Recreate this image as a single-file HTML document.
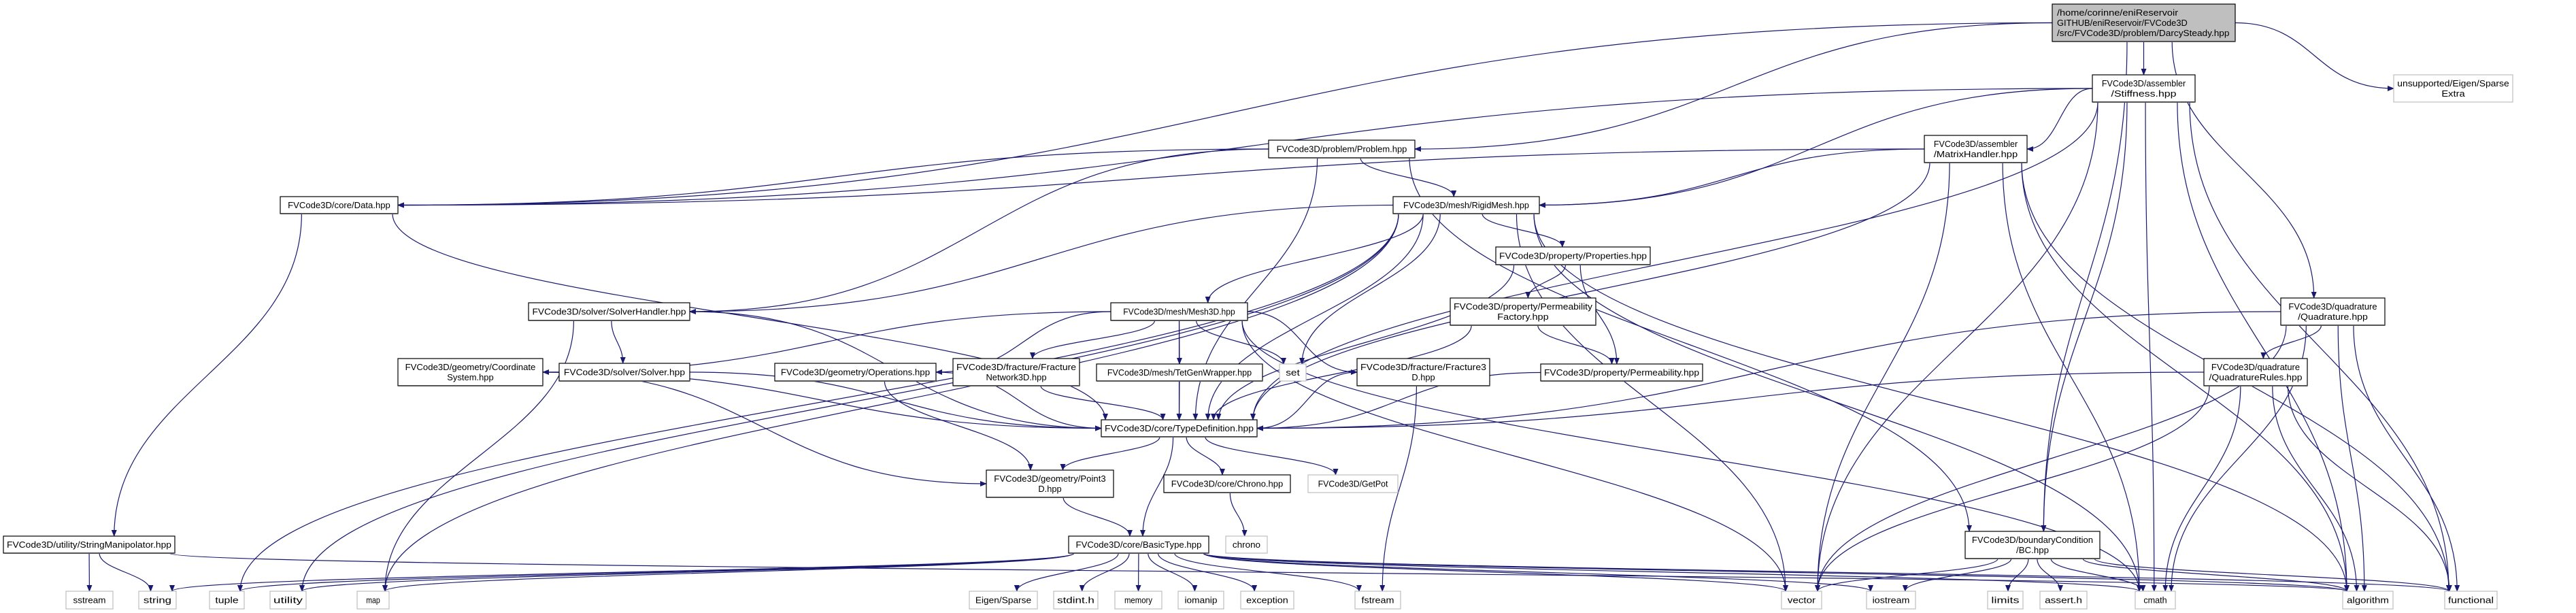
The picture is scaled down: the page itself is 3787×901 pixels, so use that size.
<!DOCTYPE html>
<html><head><meta charset="utf-8"><style>
html,body{margin:0;padding:0;background:#fff;}
svg{display:block;}
text{font-family:"Liberation Sans",sans-serif;font-size:12.5px;fill:#000;}
</style></head><body>
<svg id="g" width="3787" height="901" xmlns="http://www.w3.org/2000/svg">
<defs><marker id="ar" markerWidth="10" markerHeight="8" refX="9" refY="4" orient="auto" markerUnits="userSpaceOnUse"><path d="M0,0 L10,4 L0,8 z" fill="#191970"/></marker></defs>
<g id="edges"></g><g id="nodes"></g>
</svg>
<script>
var N={
D:[3017,6,3286,61,["/home/corinne/eniReservoir","GITHUB/eniReservoir/FVCode3D","/src/FVCode3D/problem/DarcySteady.hpp"],2],
ST:[3076,110,3227,150,["FVCode3D/assembler","/Stiffness.hpp"],0],
SE:[3519,110,3694,150,["unsupported/Eigen/Sparse","Extra"],1],
MH:[2829,199,2980,239,["FVCode3D/assembler","/MatrixHandler.hpp"],0],
PR:[1865,206,2080,232,["FVCode3D/problem/Problem.hpp"],0],
DA:[412,289,585,314,["FVCode3D/core/Data.hpp"],0],
RM:[2048,289,2263,314,["FVCode3D/mesh/RigidMesh.hpp"],0],
PP:[2199,363,2426,389,["FVCode3D/property/Properties.hpp"],0],
PF:[2132,438,2346,478,["FVCode3D/property/Permeability","Factory.hpp"],0],
SH:[777,445,1014,471,["FVCode3D/solver/SolverHandler.hpp"],0],
M3:[1633,445,1834,471,["FVCode3D/mesh/Mesh3D.hpp"],0],
QD:[3353,438,3506,478,["FVCode3D/quadrature","/Quadrature.hpp"],0],
CS:[585,527,798,567,["FVCode3D/geometry/Coordinate","System.hpp"],0],
SO:[822,534,1014,560,["FVCode3D/solver/Solver.hpp"],0],
OP:[1139,534,1376,560,["FVCode3D/geometry/Operations.hpp"],0],
FN:[1401,527,1587,567,["FVCode3D/fracture/Fracture","Network3D.hpp"],0],
TG:[1612,535,1856,560,["FVCode3D/mesh/TetGenWrapper.hpp"],0],
set:[1881,535,1920,560,["set"],1],
F3:[1995,527,2190,567,["FVCode3D/fracture/Fracture3","D.hpp"],0],
PM:[2265,535,2503,560,["FVCode3D/property/Permeability.hpp"],0],
QR:[3240,527,3392,567,["FVCode3D/quadrature","/QuadratureRules.hpp"],0],
TD:[1619,617,1848,642,["FVCode3D/core/TypeDefinition.hpp"],0],
P3:[1450,691,1637,731,["FVCode3D/geometry/Point3","D.hpp"],0],
CH:[1711,698,1897,724,["FVCode3D/core/Chrono.hpp"],0],
GP:[1923,698,2055,724,["FVCode3D/GetPot"],1],
SM:[5,788,257,813,["FVCode3D/utility/StringManipolator.hpp"],0],
BT:[1571,788,1777,813,["FVCode3D/core/BasicType.hpp"],0],
chrono:[1802,788,1863,813,["chrono"],1],
BC:[2889,781,3087,821,["FVCode3D/boundaryCondition","/BC.hpp"],0],
sstream:[97,869,166,895,["sstream"],1],
string:[204,869,259,895,["string"],1],
tuple:[308,869,359,895,["tuple"],1],
utility:[397,869,450,895,["utility"],1],
map:[525,869,572,895,["map"],1],
eigen:[1425,869,1525,895,["Eigen/Sparse"],1],
stdint:[1549,869,1614,895,["stdint.h"],1],
memory:[1639,869,1708,895,["memory"],1],
iomanip:[1732,869,1799,895,["iomanip"],1],
exception:[1824,869,1902,895,["exception"],1],
fstream:[1992,869,2059,895,["fstream"],1],
vector:[2619,869,2678,895,["vector"],1],
iostream:[2744,869,2816,895,["iostream"],1],
limits:[2922,869,2974,895,["limits"],1],
assert:[2999,869,3068,895,["assert.h"],1],
cmath:[3139,869,3198,895,["cmath"],1],
algorithm:[3444,869,3518,895,["algorithm"],1],
functional:[3594,869,3671,895,["functional"],1]
};
var E={
D:["ST","SE","PR","DA","QD","BC"],
ST:["MH","DA","RM","TD","vector","cmath","BC","algorithm","functional"],
MH:["RM","DA","TD","vector","cmath","algorithm","functional"],
PR:["DA","RM","SH","TD","BC"],
DA:["SM","TD"],
RM:["M3","PP","set","TD","SH","vector","cmath","algorithm","map","tuple","utility"],
PP:["PF","PM","TD"],
PF:["PM","TD"],
SH:["SO","TD","map"],
M3:["OP","FN","TG","set","F3","CS","TD","vector","cmath"],
FN:["TD"],TG:["TD"],OP:["TD","P3"],F3:["TD","fstream"],PM:["TD"],CS:["TD","P3"],SO:["TD"],
QD:["QR","TD","vector","cmath","algorithm","functional"],
QR:["TD","vector","cmath","algorithm","functional"],
TD:["P3","CH","GP","BT"],
P3:["BT"],CH:["chrono"],
SM:["sstream","string","algorithm"],
BT:["eigen","stdint","memory","iomanip","exception","fstream","vector","iostream","cmath","algorithm","functional","string","tuple","utility","map"],
BC:["vector","iostream","limits","assert","cmath","algorithm","functional"]
};
var NS="http://www.w3.org/2000/svg";
function el(t,a,p){var e=document.createElementNS(NS,t);for(var k in a)e.setAttribute(k,a[k]);p.appendChild(e);return e;}
var eg=document.getElementById("edges"),ng=document.getElementById("nodes");
for(var s in E){E[s].forEach(function(t){
 var a=N[s],b=N[t];var d;
 var acx=(a[0]+a[2])/2,bcx=(b[0]+b[2])/2;
 var dx=Math.abs(bcx-acx),dy=b[1]-a[3];
 if(dy>8 && (dx<5*dy || b[1]>=860)){
  var sx=Math.max(a[0]+8,Math.min(a[2]-8,acx+(bcx-acx)*0.15));
  var tx=Math.max(b[0]+6,Math.min(b[2]-6,bcx+(acx-bcx)*0.1));
  var y1=a[3],y2=b[1];var m=(y2-y1)*0.45;
  d="M"+sx+","+y1+" C"+sx+","+(y1+m)+" "+tx+","+(y2-m)+" "+tx+","+y2;
 }else{
  var left=bcx<acx;var sx=left?a[0]:a[2],tx=left?b[2]:b[0];
  var sy=(a[1]+a[3])/2,ty=(b[1]+b[3])/2;
  d="M"+sx+","+sy+" C"+((sx+tx)/2)+","+sy+" "+((sx+tx)/2)+","+ty+" "+tx+","+ty;
 }
 el("path",{d:d,fill:"none",stroke:"#191970","stroke-width":1.2,"marker-end":"url(#ar)"},eg);
});}
for(var k in N){var n=N[k];var w=n[2]-n[0],h=n[3]-n[1];
 var fill=n[5]==2?"#bfbfbf":"#fff",st=n[5]==1?"#bfbfbf":"#000";
 el("rect",{x:n[0],y:n[1],width:w,height:h,fill:fill,stroke:st,"stroke-width":1.2},ng);
 if(n[5]!=1)el("line",{x1:n[0]+1,y1:n[3],x2:n[2],y2:n[3],stroke:"#555","stroke-width":2},ng);
 var L=n[4],lh=15,y0=(n[1]+n[3])/2-(L.length-1)*lh/2+4.5;
 L.forEach(function(s,i){
  var tl=Math.min(s.length*6.85,w-10);
  var a={y:y0+i*lh,textLength:tl,lengthAdjust:"spacingAndGlyphs"};
  if(n[5]==2){a.x=n[0]+7;}else{a.x=(n[0]+n[2])/2;a["text-anchor"]="middle";}
  var t=el("text",a,ng);t.textContent=s;});
}
</script>
</body></html>
